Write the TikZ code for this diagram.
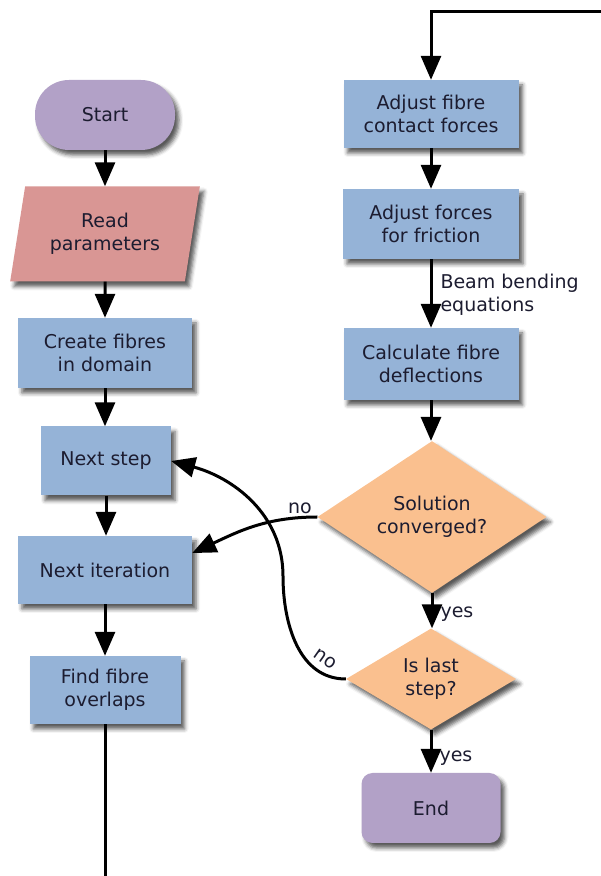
\documentclass[tikz,border=0pt]{standalone}
\usepackage{fontspec}
\setmainfont{DejaVu Sans}
\definecolor{FlowBlue}{RGB}{149, 179, 215}
\definecolor{FlowPurple}{RGB}{178, 161, 199}
\definecolor{FlowPink}{RGB}{217, 150, 148}
\definecolor{FlowOrange}{RGB}{250, 192, 143}
\definecolor{FlowText}{RGB}{28, 28, 48}
\usepackage{tikz}
\usetikzlibrary{shapes.geometric, arrows.meta, shadows.blur}

\tikzset{
  shade/.style={blur shadow={shadow xshift=4pt, shadow yshift=-5pt, shadow blur radius=4pt, shadow opacity=65}},
  procbox/.style={rectangle, fill=FlowBlue, shade, inner sep=0pt, align=center, text=FlowText},
  termbox/.style={rectangle, fill=FlowPurple, shade, inner sep=0pt, align=center, text=FlowText},
  iobox/.style={trapezium, trapezium left angle=76, trapezium right angle=104, trapezium stretches=true,
    fill=FlowPink, shade, inner sep=0pt, align=center, text=FlowText},
  decbox/.style={diamond, fill=FlowOrange, shade, inner sep=0pt, align=center, text=FlowText},
  flow/.style={line width=3pt, -{Triangle[length=24pt, width=20pt]}},
  lbl/.style={text=FlowText, inner sep=2pt}
}

\begin{document}
\begin{tikzpicture}[x=1pt, y=1pt, font=\fontsize{19}{23}\selectfont]
  \useasboundingbox (0,0) rectangle (601,876);

  % left column
  \node[termbox, rounded corners=34pt, minimum width=140pt, minimum height=70pt] (start) at (105,761) {Start};
  \node[iobox, minimum width=190pt, minimum height=95pt] (read) at (105,642) {Read\\parameters};
  \node[procbox, minimum width=174pt, minimum height=70pt] (create) at (105,523) {Create fibres\\in domain};
  \node[procbox, minimum width=130pt, minimum height=69pt] (nstep) at (106,415) {Next step};
  \node[procbox, minimum width=174pt, minimum height=68pt] (niter) at (105,306) {Next iteration};
  \node[procbox, minimum width=151pt, minimum height=68pt] (overlap) at (105,186) {Find fibre\\overlaps};
  \coordinate (loopout) at (105,0);

  % right column
  \coordinate (loopin) at (601,864);
  \node[procbox, minimum width=175pt, minimum height=68pt] (contact) at (431,762) {Adjust fibre\\contact forces};
  \node[procbox, minimum width=176pt, minimum height=70pt] (friction) at (431,652) {Adjust forces\\for friction};
  \node[procbox, minimum width=175pt, minimum height=72pt] (deflect) at (431,512) {Calculate fibre\\deflections};
  \node[decbox, minimum width=229pt, minimum height=136pt] (conv) at (432,359) {Solution\\converged?};
  \node[decbox, minimum width=170pt, minimum height=101pt] (last) at (431,197) {Is last\\step?};
  \node[termbox, rounded corners=11pt, minimum width=139pt, minimum height=70pt] (end) at (431,68) {End};

  % connectors
  \draw[flow] (start) -- (read);
  \draw[flow] (read) -- (create);
  \draw[flow] (create.south) -- (create.south |- nstep.north);
  \draw[flow] (nstep.south) -- (nstep.south |- niter.north);
  \draw[flow] (niter) -- (overlap);
  \draw[line width=3pt] (overlap) -- (loopout);

  \draw[flow] (loopin) -| (contact.north);
  \draw[flow] (contact) -- (friction);
  \draw[flow] (friction) -- node[lbl, right, align=left, xshift=6pt, yshift=-1pt] {Beam bending\\equations} (deflect);
  \draw[flow] (deflect.south) -- (deflect.south |- conv.north);
  \draw[flow] (conv.south) -- node[lbl, right, xshift=5pt, yshift=-3pt] {yes} (conv.south |- last.north);
  \draw[flow] (last) -- node[lbl, right, xshift=5pt, yshift=-7pt] {yes} (end);

  \draw[flow] (conv.west) to[out=180, in=25] node[lbl, pos=0.12, above] {no} (niter.11);
  \draw[flow] (last.west) to[out=180, in=-90] node[lbl, pos=0.24, sloped, above=5pt] {no} (283,300)
    to[out=90, in=-15] (nstep.east);
\end{tikzpicture}
\end{document}
